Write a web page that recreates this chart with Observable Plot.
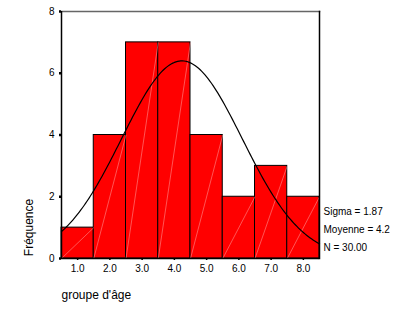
<!DOCTYPE html>
<html>
<head>
<meta charset="utf-8">
<script src="https://cdn.jsdelivr.net/npm/d3@7"></script>
<script src="https://cdn.jsdelivr.net/npm/@observablehq/plot@0.6"></script>
<style>
  body { margin: 0; background: #fff; }
  svg { font-family: "Liberation Sans", Arial, sans-serif; }
</style>
</head>
<body>
<div id="chart"></div>
<script>
const groups = [1, 2, 3, 4, 5, 6, 7, 8];
const counts = [1, 4, 7, 7, 4, 2, 3, 2];
const xTicks = [1, 2, 3, 4, 5, 6, 7, 8];
const yTicks = [0, 2, 4, 6, 8];
const sigma = 1.87;
const nTotal = 30;
const statLabels = ["Sigma = 1.87", "Moyenne = 4.2", "N = 30.00"];

const bars = groups.map((g, i) => ({x0: g - 0.5, x1: g + 0.5, count: counts[i]}));
const mean = d3.sum(groups.map((g, i) => g * counts[i])) / nTotal;
const curve = d3.range(0.5, 8.5001, 0.05).map(x => ({
  x, y: nTotal * Math.exp(-((x - mean) ** 2) / (2 * sigma * sigma)) / (sigma * Math.sqrt(2 * Math.PI))
}));

const chart = Plot.plot({
  width: 410,
  height: 311,
  marginLeft: 61,
  marginRight: 91,
  marginTop: 11,
  marginBottom: 53,
  style: {fontFamily: "Liberation Sans, Arial, sans-serif", fontSize: "10px", color: "#000", background: "#fff"},
  x: {domain: [0.5, 8.5]},
  y: {domain: [0, 8]},
  marks: [
    Plot.rectY(bars, {x1: "x0", x2: "x1", y: "count", fill: "#ff0000", stroke: "#000", strokeWidth: 1}),
    Plot.link(bars, {x1: "x0", y1: () => 0, x2: "x1", y2: "count", stroke: "#ffb0b0", strokeWidth: 0.6, strokeOpacity: 0.8}),
    Plot.line(curve, {x: "x", y: "y", stroke: "#000", strokeWidth: 1.2}),
    Plot.frame({anchor: "top", stroke: "#666", strokeWidth: 1.5}),
    Plot.frame({anchor: "right", stroke: "#000", strokeWidth: 1.5}),
    Plot.axisY({ticks: yTicks, tickSize: 2, tickPadding: 5, strokeWidth: 2.5, label: null, fontSize: 10}),
    Plot.axisX({ticks: xTicks, tickFormat: d3.format(".1f"), tickSize: 2, tickPadding: 4, strokeWidth: 1.5, label: null, fontSize: 10}),
    Plot.ruleY([0], {stroke: "#000", strokeWidth: 1.5}),
    Plot.ruleX([0.5], {stroke: "#000", strokeWidth: 1.5}),
    Plot.text(["Fréquence"], {frameAnchor: "bottom-left", rotate: -90, dx: -29, dy: -31, textAnchor: "middle", fontSize: 12}),
    Plot.text(["groupe d'âge"], {frameAnchor: "bottom-left", dx: 0, dy: 40, textAnchor: "start", fontSize: 12}),
    Plot.text([statLabels[0]], {frameAnchor: "bottom-right", dx: 4, dy: -44, textAnchor: "start", fontSize: 10}),
    Plot.text([statLabels[1]], {frameAnchor: "bottom-right", dx: 4, dy: -26, textAnchor: "start", fontSize: 10}),
    Plot.text([statLabels[2]], {frameAnchor: "bottom-right", dx: 4, dy: -8, textAnchor: "start", fontSize: 10})
  ]
});
document.getElementById("chart").appendChild(chart);
</script>
</body>
</html>
